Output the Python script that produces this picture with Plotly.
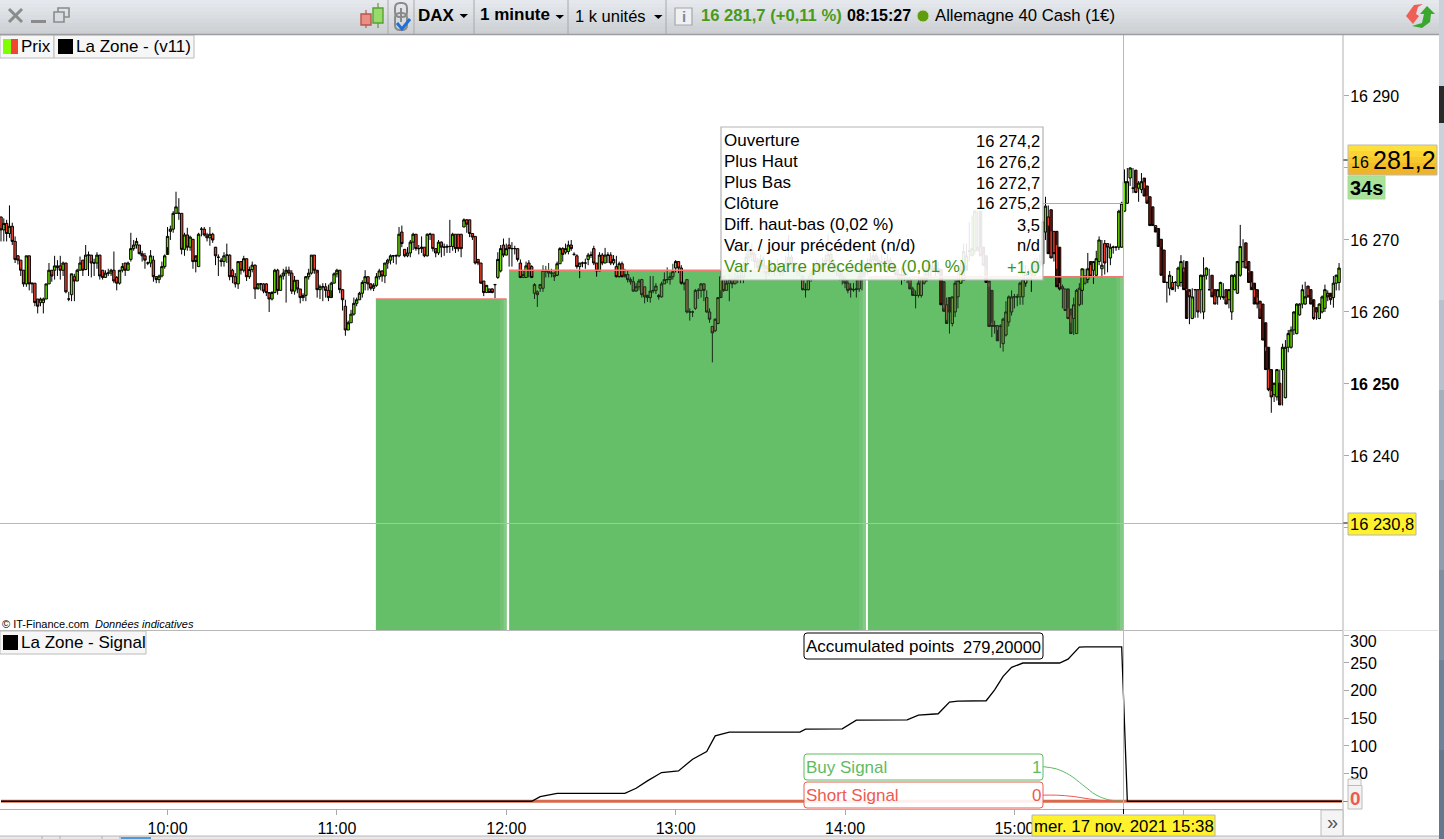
import pandas as pd
import plotly.graph_objects as go

W, H = 1444, 839
FONT = "Liberation Sans"

# ---------- data (points above 16 000) ----------
PRICE_BASE = 16000
opens = [
273.2,271.4,272.3,270.9,271.9,269.8,267.8,267.2,265.8,263.9,
267.8,263.9,264.0,261.8,261.3,261.3,261.8,263.9,265.8,265.8,
266.4,266.4,265.8,266.8,261.8,262.4,264.9,264.3,265.8,267.2,
265.9,267.9,267.9,266.8,266.8,267.9,265.8,264.8,265.4,265.4,
265.8,264.8,264.0,265.8,266.8,265.8,267.3,268.8,269.3,269.3,
268.1,267.8,266.8,266.8,267.2,264.9,264.5,265.0,266.3,268.0,
271.2,271.5,273.7,273.7,273.7,268.7,270.7,269.0,270.1,267.8,
266.3,271.5,271.5,270.7,270.3,270.8,269.0,267.6,267.2,267.0,
267.9,267.9,265.8,264.9,263.9,267.0,265.8,267.4,264.9,265.9,
266.5,263.2,263.9,263.9,263.9,262.7,261.8,262.7,265.8,263.0,
265.0,265.4,265.8,265.4,262.9,264.4,263.2,262.0,262.3,264.9,
265.4,267.9,265.8,263.1,263.5,263.5,263.0,262.0,264.0,265.3,
265.8,263.1,260.8,257.5,258.5,259.7,261.2,261.7,262.6,264.1,
264.9,263.9,263.3,263.7,264.9,265.7,265.0,266.8,267.2,267.8,
267.8,267.8,271.1,268.7,267.8,268.2,269.7,270.8,268.8,268.8,
269.0,267.8,270.8,270.8,268.8,268.2,269.7,269.0,269.0,269.1,
269.1,270.8,270.8,270.8,271.8,272.8,272.8,270.9,270.5,267.3,
266.8,264.3,262.7,263.2,263.2,263.8,264.8,265.7,269.3,267.9,
269.3,268.8,268.8,268.8,266.8,264.8,264.8,266.8,266.3,262.6,
262.8,263.3,263.3,265.8,265.7,265.4,265.4,265.1,266.7,268.8,
268.3,268.4,269.3,268.0,267.8,266.3,266.8,266.8,267.3,267.9,
268.8,266.8,265.7,267.9,266.8,267.9,267.9,266.8,266.3,264.9,
266.7,264.9,265.2,264.5,264.2,262.9,263.5,264.5,263.5,262.3,
262.0,262.9,263.0,262.3,262.1,263.9,264.5,264.5,264.9,266.1,
267.0,266.1,264.0,264.5,260.0,260.0,260.5,263.0,263.0,263.9,
262.0,260.0,258.0,257.4,258.4,262.0,264.9,263.0,264.0,264.5,
263.9,264.6,265.0,264.8,265.8,267.6,268.6,268.0,267.0,266.2,
267.3,266.4,265.4,265.9,266.2,265.8,266.3,265.5,265.9,266.8,
267.6,266.7,265.9,265.6,265.0,263.1,263.1,264.5,265.3,266.0,
266.5,266.0,266.6,267.2,268.0,266.8,266.3,265.6,265.0,264.5,
264.0,263.3,263.1,263.1,263.2,264.9,265.5,266.0,266.6,267.3,
267.8,267.1,266.5,267.0,266.3,267.2,266.6,266.0,265.2,264.7,
265.2,264.9,264.5,263.2,262.3,262.3,262.3,264.0,264.7,264.8,
265.8,266.5,266.0,265.9,264.2,261.0,262.0,258.4,260.0,262.1,
264.0,264.4,265.8,268.4,267.8,268.5,268.5,274.0,269.0,267.8,
264.3,263.0,258.0,258.1,258.0,255.6,256.8,258.6,260.0,262.1,
262.1,262.1,262.1,264.0,264.5,265.3,265.0,265.8,266.5,266.7,
271.1,273.2,274.2,271.2,271.2,269.0,263.5,263.2,263.2,260.4,
259.1,257.0,261.0,263.0,264.0,264.5,267.0,265.8,265.1,267.0,
266.0,269.5,269.5,267.5,269.0,269.0,269.0,269.0,274.0,275.1,
278.6,277.2,279.7,277.2,277.0,278.6,277.5,276.0,274.6,272.0,
271.6,270.1,268.6,264.1,263.3,264.1,264.1,263.6,264.1,266.1,
267.0,263.1,259.1,263.1,263.1,263.1,260.0,265.1,263.1,265.1,
263.1,262.1,262.1,262.0,263.1,261.7,260.0,263.1,262.6,265.1,
267.0,269.6,267.0,265.6,264.0,263.1,261.5,261.1,258.5,255.1,
252.0,248.5,248.2,250.1,252.0,248.1,255.1,255.1,257.5,257.0,
259.6,261.1,261.1,263.6,263.1,261.7,260.6,259.1,260.0,260.5,
262.6,262.6,262.0,264.0,264.1,264.5,
]
closes = [
271.4,272.3,270.9,271.9,269.8,267.3,267.2,265.8,263.9,267.8,
263.9,264.0,261.3,260.8,261.8,261.8,263.9,265.8,265.0,266.4,
266.2,265.8,266.8,262.8,261.8,265.3,264.3,265.8,266.8,265.8,
267.9,267.9,266.8,266.8,267.9,265.0,264.8,265.4,265.4,265.8,
264.3,264.0,265.8,266.3,265.8,266.8,268.8,269.3,269.8,268.1,
267.8,267.2,266.8,267.8,264.9,264.5,265.0,266.3,267.8,270.5,
271.5,273.7,274.6,273.7,268.7,270.7,269.0,270.4,267.0,267.0,
270.8,271.5,270.7,270.3,270.8,270.0,267.8,267.6,267.0,267.8,
267.9,264.9,264.9,263.9,267.0,265.8,267.4,264.9,265.9,266.5,
263.2,263.9,263.9,262.9,262.7,261.8,262.7,265.8,263.0,265.0,
265.4,265.8,265.4,262.9,264.4,263.2,262.0,262.3,264.9,265.4,
267.9,265.8,263.1,263.5,263.5,263.0,262.0,264.0,265.3,265.8,
263.1,261.7,257.5,258.5,259.7,261.2,261.7,262.6,264.1,264.9,
263.9,263.3,263.7,264.9,265.7,265.0,266.8,267.2,267.8,267.8,
267.8,270.8,269.5,267.8,268.2,269.7,270.8,268.8,268.8,269.0,
267.8,270.8,270.8,268.8,268.2,269.7,269.0,269.0,269.1,269.1,
270.8,268.8,268.8,268.8,272.8,272.2,270.9,270.4,266.8,266.8,
264.0,262.7,263.7,262.7,262.7,263.8,267.3,268.8,267.9,268.8,
268.8,268.8,268.8,267.3,264.8,265.2,266.4,265.8,264.8,263.8,
262.4,263.8,265.8,265.7,265.4,265.4,264.9,266.7,268.8,268.0,
268.8,269.3,268.8,268.0,266.3,266.8,266.8,266.8,267.9,267.9,
266.8,265.7,267.9,266.8,267.9,267.9,266.8,267.3,264.9,266.7,
264.9,265.2,264.5,264.2,262.9,263.5,264.3,262.4,262.1,262.0,
262.9,263.0,263.6,262.1,263.9,264.5,264.5,264.9,265.6,267.0,
266.1,264.0,263.9,260.0,260.0,260.0,263.0,263.0,263.9,263.0,
260.0,259.0,257.1,259.0,262.0,264.9,263.0,264.0,264.5,263.9,
264.6,265.0,264.8,265.8,267.6,268.6,268.0,267.0,266.2,267.3,
266.4,265.4,265.9,266.2,265.8,266.3,265.5,265.9,266.8,267.6,
266.7,265.9,265.6,266.0,263.1,263.1,264.5,265.3,266.0,266.5,
266.0,266.6,267.2,268.0,266.8,266.3,265.6,265.0,264.5,264.0,
263.0,263.1,263.1,263.2,264.9,265.5,266.0,266.6,267.3,267.8,
267.1,266.5,267.0,266.3,267.2,266.6,266.0,265.2,264.7,265.2,
264.9,264.9,263.2,262.3,262.3,264.0,264.7,264.8,265.8,266.5,
266.0,265.9,265.5,261.0,260.1,258.4,260.0,262.1,264.0,264.4,
265.8,268.4,267.8,268.5,268.8,274.0,269.0,267.8,266.5,264.1,
258.0,258.0,258.1,256.0,258.0,259.0,260.0,262.1,262.1,262.1,
262.1,264.0,264.5,265.3,265.0,265.8,266.5,266.7,267.0,272.5,
274.7,268.1,267.5,268.1,263.5,263.2,263.2,260.2,259.1,257.0,
261.0,263.0,263.3,266.0,265.0,266.0,264.9,267.0,267.4,270.0,
266.5,266.8,269.0,269.0,269.0,269.0,274.0,275.1,278.1,278.1,
280.0,277.2,276.6,277.9,278.1,276.1,275.1,272.0,272.0,271.1,
269.1,265.1,264.1,264.1,265.1,263.1,264.1,266.1,267.0,263.1,
259.1,262.1,262.1,263.1,260.0,265.1,265.1,266.1,263.1,262.1,
261.1,263.1,264.1,262.1,261.1,263.1,265.1,265.1,267.0,269.1,
267.0,266.1,264.1,263.1,261.1,261.1,259.1,256.1,252.0,249.2,
248.2,250.1,252.0,247.1,255.1,255.1,257.0,257.5,260.0,261.1,
261.1,263.1,262.1,262.1,261.1,259.1,260.0,261.1,262.1,263.1,
262.1,261.7,264.0,265.1,266.1,
]
highs = [
273.2,273.0,272.8,274.8,272.4,270.5,267.9,267.2,265.8,267.8,
267.8,264.0,264.0,261.8,262.0,262.0,263.9,266.8,265.8,267.8,
267.2,267.8,267.0,266.8,262.8,265.3,265.3,266.0,267.7,267.2,
269.3,268.4,267.9,267.4,268.3,267.9,265.8,265.8,266.0,266.0,
268.4,265.0,265.8,266.8,266.8,267.0,271.0,270.0,270.3,269.3,
268.5,268.2,267.0,268.6,267.8,265.0,265.2,267.0,268.0,271.8,
272.0,274.0,276.7,275.8,273.7,271.0,271.7,270.6,270.0,267.5,
271.0,271.8,271.8,271.0,271.8,271.0,268.9,268.0,267.5,268.3,
269.5,268.0,266.0,265.4,267.0,267.0,267.8,267.4,266.3,267.0,
266.6,264.0,264.0,264.0,264.0,262.5,262.9,266.0,266.0,265.2,
266.0,266.3,266.3,265.8,265.0,264.4,263.2,262.6,265.0,266.0,
267.9,267.9,265.4,263.8,264.0,264.0,263.8,264.2,265.5,266.0,
265.8,263.2,261.7,258.8,260.3,262.0,262.0,262.8,264.4,265.8,
264.9,264.0,264.0,265.4,266.0,265.8,266.8,267.4,268.0,267.9,
268.0,271.8,272.0,268.7,269.0,270.0,271.0,270.8,269.3,270.5,
269.0,270.9,271.0,270.8,268.8,270.0,269.8,269.5,269.4,272.8,
271.0,270.8,270.8,270.8,273.0,272.9,272.8,270.9,270.5,267.3,
266.8,264.3,263.7,263.2,263.3,263.9,268.3,269.3,270.2,269.5,
270.3,269.7,269.2,268.8,267.3,265.8,267.0,267.2,266.5,264.0,
263.0,263.9,266.5,266.4,266.8,266.0,265.6,267.0,269.0,269.0,
269.5,269.9,270.0,268.3,268.0,266.8,267.0,267.4,268.2,268.4,
269.2,266.8,268.3,268.2,268.9,268.3,268.3,267.9,267.8,267.0,
267.0,266.0,265.8,264.8,264.9,264.0,264.6,264.6,263.5,262.4,
265.0,265.0,264.0,262.5,264.2,265.5,266.2,265.5,266.7,267.2,
267.0,266.5,264.2,264.5,260.5,260.2,263.2,263.3,264.0,264.0,
263.0,260.5,258.0,259.1,262.0,265.8,265.0,264.5,265.2,265.0,
265.4,265.8,265.8,267.0,268.2,269.2,269.5,268.3,267.5,268.0,
267.8,266.5,266.8,267.0,266.5,267.3,266.5,266.5,267.8,270.7,
268.0,267.0,266.5,266.8,265.0,264.0,265.0,266.0,266.8,267.2,
267.0,267.5,268.0,270.7,268.8,267.4,266.5,266.0,265.8,265.0,
264.5,264.0,264.0,264.5,265.5,266.3,266.8,267.5,268.2,269.0,
268.2,267.6,268.0,267.5,268.0,267.6,267.0,266.3,266.0,266.2,
266.0,265.5,264.8,263.5,263.0,265.0,265.0,266.0,267.0,267.4,
267.2,267.0,267.0,265.0,261.0,262.0,260.1,262.1,264.5,265.5,
267.0,269.5,269.5,272.5,273.4,274.2,274.0,269.0,268.0,266.0,
264.0,258.5,258.8,258.2,258.3,259.2,261.5,262.3,263.0,262.5,
262.5,264.2,265.5,266.5,266.0,266.8,267.4,267.5,268.0,272.8,
276.0,274.8,271.2,271.2,269.3,264.0,263.8,263.2,260.5,259.5,
262.0,263.2,264.0,266.0,266.0,268.2,266.5,267.0,268.5,270.5,
270.0,270.0,269.5,269.5,269.2,269.1,274.2,275.3,279.8,280.0,
280.1,280.0,277.2,278.2,279.3,278.0,276.1,274.7,272.0,272.0,
270.1,268.6,264.2,264.2,265.7,265.0,264.3,266.3,267.9,267.2,
263.2,262.8,263.3,263.2,263.2,265.2,267.6,266.2,266.0,263.2,
262.2,263.2,264.2,264.0,262.0,263.2,265.2,265.3,267.1,272.1,
270.1,267.1,265.7,264.1,263.1,262.0,261.1,258.8,255.1,252.0,
249.0,250.2,252.0,252.0,255.6,256.1,257.5,258.0,260.1,261.2,
261.2,263.8,264.2,263.2,261.8,260.7,260.3,261.2,262.3,263.8,
263.0,262.1,265.0,265.2,266.8,
]
lows = [
269.8,269.8,269.8,270.3,269.3,266.8,266.6,265.0,263.5,263.5,
263.0,262.6,260.8,259.8,260.8,259.8,261.8,263.9,264.2,264.5,
265.0,264.5,265.0,262.6,261.5,261.5,261.5,264.3,265.8,265.0,
265.8,265.0,264.8,265.0,266.0,264.5,264.5,264.8,265.0,265.0,
264.0,263.0,263.8,265.5,265.0,265.8,267.0,268.5,268.8,268.0,
267.0,266.0,266.5,266.2,264.2,264.0,264.0,264.8,266.0,269.0,
270.0,271.0,273.7,272.8,268.0,267.8,268.5,268.5,266.0,265.5,
266.3,270.5,270.5,269.8,269.2,269.6,266.5,265.0,266.3,266.3,
266.8,264.4,264.0,263.4,263.2,265.2,265.5,264.3,264.6,265.5,
261.8,263.5,263.0,262.6,262.2,260.0,261.6,262.6,262.4,263.0,
264.5,261.3,265.0,262.5,262.4,262.6,261.2,261.5,261.5,264.5,
265.2,265.3,262.0,261.8,261.5,262.0,261.5,263.0,264.0,264.8,
262.6,260.2,256.7,257.5,258.5,259.5,260.8,261.7,262.0,263.0,
263.0,263.0,262.9,263.5,264.5,264.2,264.0,266.0,266.6,266.8,
266.6,267.6,269.0,267.6,267.6,267.6,268.6,268.5,268.0,268.2,
267.6,267.7,270.0,268.4,267.6,267.9,267.6,267.8,268.2,268.2,
268.5,268.2,268.4,267.6,271.8,271.0,270.4,270.0,266.6,266.5,
263.9,262.2,262.7,262.7,262.6,261.9,264.6,265.5,267.6,267.9,
266.3,266.3,268.0,267.0,264.7,264.7,264.8,264.8,264.7,261.8,
260.7,262.8,262.8,264.8,264.8,264.8,264.3,265.0,266.7,267.0,
268.0,268.0,268.5,267.8,266.0,264.7,266.2,266.0,266.5,267.5,
266.5,264.9,265.7,266.5,266.8,266.8,266.5,266.5,264.8,264.8,
264.8,264.8,264.1,263.8,262.8,263.0,263.0,262.0,261.2,261.4,
261.3,262.6,262.5,261.7,262.0,263.9,264.0,263.8,264.5,265.5,
265.4,263.8,263.0,259.8,258.8,259.3,260.3,261.8,262.0,261.5,
259.9,258.5,253.0,257.2,258.3,263.0,262.8,263.0,261.5,263.3,
264.0,264.0,264.0,264.0,265.5,267.0,267.0,266.0,265.6,265.8,
265.5,264.5,265.0,265.5,265.0,265.5,265.0,265.0,265.6,266.5,
266.0,265.5,265.0,265.0,263.0,262.0,263.0,264.2,265.0,265.7,
265.3,265.6,266.0,266.8,266.0,265.5,265.0,264.4,263.8,263.3,
262.6,262.0,262.8,262.0,262.8,263.0,264.9,265.2,265.5,266.5,
267.0,266.2,265.8,266.0,265.4,266.0,265.8,265.0,264.5,263.8,
264.3,264.0,264.0,263.0,260.5,262.0,262.0,263.8,264.2,265.0,
265.8,265.0,265.2,264.9,260.6,258.9,257.0,258.0,259.3,260.5,
264.0,264.5,266.5,267.0,268.0,268.0,268.5,268.0,266.5,265.0,
263.5,256.5,257.0,257.5,255.0,254.5,256.6,258.0,259.5,260.5,
260.8,261.0,261.0,263.5,264.6,262.8,264.8,265.5,266.0,266.3,
270.0,272.0,267.5,267.0,266.0,263.0,260.5,260.2,259.0,258.5,
256.8,257.0,260.8,261.0,263.8,264.0,265.2,263.9,264.9,266.5,
264.8,265.2,265.5,266.5,268.1,268.5,268.6,268.9,273.9,275.0,
277.5,276.5,276.5,275.3,276.5,277.2,275.6,274.7,272.0,271.8,
271.0,269.0,265.0,261.3,262.3,263.5,262.8,263.2,263.5,265.6,
263.0,258.3,259.0,259.2,259.2,259.8,259.0,264.5,263.0,262.8,
261.1,261.0,261.7,261.7,261.7,260.5,258.9,263.0,262.5,264.9,
266.1,266.1,265.5,263.5,262.1,260.5,260.5,258.8,254.6,249.0,
246.0,247.5,247.7,250.0,247.0,248.0,254.4,254.9,256.8,256.9,
259.5,260.5,261.0,262.0,262.0,258.9,258.9,259.0,259.8,260.0,
261.5,261.0,260.6,263.0,263.0,264.0,
]

accum_times = ["09:01","12:09","12:12","12:18","12:42","12:46","12:50","12:55","13:01","13:06",
               "13:11","13:14","13:19","13:44","13:46","13:59","14:04","14:22","14:26","14:33",
               "14:37","14:40","14:50","14:53","14:56","14:59","15:03","15:16","15:19","15:23",
               "15:25","15:38","15:40","16:56"]
accum_vals = [0,0,8.4,14.4,14.4,23.5,36.8,51.9,54.9,76,
              89.9,118.3,124.9,124.9,130.4,131,146.7,147.3,155.7,158.2,
              179.3,181,181.7,201.5,225.7,242,249.9,249.9,257,278.8,
              279.2,279.2,0,0]
short_times = ["09:01","16:56"]
short_vals = [0,0]
buy_link_times = ["15:09:42","15:14:48","15:19:30","15:24:12","15:28:54","15:33:36","15:38:24"]
buy_link_vals = [62.8,58.6,47.7,29.6,11.5,2.4,0.6]
short_link_times = ["15:09:42","15:15:00","15:21:18","15:28:54","15:38:24"]
short_link_vals = [11,11,8.4,2.4,0]

zone_starts = ["11:13:48","12:01:00","14:08:06"]
zone_ends = ["12:00:06","14:07:24","15:38:36"]
zone_levels = [261.8,265.8,264.9]
fade_starts = ["11:57:48","11:59:00","14:05:00","14:06:12","15:36:12","15:37:24"]
fade_ends = ["11:59:00","12:00:06","14:06:12","14:07:24","15:37:24","15:38:36"]
fade_levels = [261.8,261.8,265.8,265.8,264.9,264.9]
fade_colors = ["#72c275","#84ca86","#72c275","#84ca86","#72c275","#84ca86"]

hour_ticks = ["10:00","11:00","12:00","13:00","14:00","15:00","16:00"]
hour_labels = ["10:00","11:00","12:00","13:00","14:00","15:00",""]
price_ticks = [16230,16240,16250,16260,16270,16280,16290]
price_labels = ["","16 240","<b>16 250</b>","16 260","16 270","","16 290"]
signal_ticks = [0,50,100,150,200,250,300]
signal_labels = ["","50","100","150","200","250",""]

tooltip_names = ["Ouverture","Plus Haut","Plus Bas","Clôture","Diff. haut-bas (0,02 %)",
                 "Var. / jour précédent (n/d)","Var. / barre précédente (0,01 %)"]
tooltip_vals = ["16 274,2","16 276,2","16 272,7","16 275,2","3,5","n/d","+1,0"]

DAY = "2021-11-17 "
def ts(t):
    return pd.Timestamp(DAY + t)

times = pd.date_range(DAY + "09:01", periods=len(closes), freq="min")
Y_MIN, Y_MAX = 16215.83, 16298.47

# ---------- helpers in page pixels ----------
def X(px): return px / W
def Y(py): return 1 - py / H
shapes, notes = [], []

def rect(x0, y0, x1, y1, fill="white", line=None, lw=1, radius=0, layer="above", opacity=1):
    if radius:
        r = radius
        p = (f"M {X(x0+r)} {Y(y0)} L {X(x1-r)} {Y(y0)} Q {X(x1)} {Y(y0)} {X(x1)} {Y(y0+r)} "
             f"L {X(x1)} {Y(y1-r)} Q {X(x1)} {Y(y1)} {X(x1-r)} {Y(y1)} L {X(x0+r)} {Y(y1)} "
             f"Q {X(x0)} {Y(y1)} {X(x0)} {Y(y1-r)} L {X(x0)} {Y(y0+r)} Q {X(x0)} {Y(y0)} {X(x0+r)} {Y(y0)} Z")
        shapes.append(dict(type="path", path=p, xref="paper", yref="paper", fillcolor=fill,
                           line=dict(color=line or "rgba(0,0,0,0)", width=lw if line else 0),
                           layer=layer, opacity=opacity))
        return
    shapes.append(dict(type="rect", xref="paper", yref="paper", x0=X(x0), x1=X(x1), y0=Y(y0), y1=Y(y1),
                       fillcolor=fill, line=dict(color=line or "rgba(0,0,0,0)", width=lw if line else 0),
                       layer=layer, opacity=opacity))

def seg(x0, y0, x1, y1, color="#b0b0b0", w=1, dash=None):
    shapes.append(dict(type="line", xref="paper", yref="paper", x0=X(x0), x1=X(x1), y0=Y(y0), y1=Y(y1),
                       line=dict(color=color, width=w, dash=dash or "solid"), layer="above"))

def poly(points, fill=None, line=None, lw=1, close=True):
    d = "M " + " L ".join(f"{X(a)} {Y(b)}" for a, b in points) + (" Z" if close else "")
    shapes.append(dict(type="path", path=d, xref="paper", yref="paper",
                       fillcolor=fill or "rgba(0,0,0,0)",
                       line=dict(color=line or "rgba(0,0,0,0)", width=lw if line else 0), layer="above"))

def txt(x, y, s, size=17, color="black", anchor="left"):
    shift = {"left": -1, "right": 1, "center": 0}[anchor]
    notes.append(dict(x=X(x + shift), y=Y(y), xref="paper", yref="paper", text=s, showarrow=False,
                      xanchor=anchor, yanchor="middle", borderpad=0,
                      font=dict(family=FONT, size=size, color=color)))

# ---------- traces ----------
fig = go.Figure()

def centers(starts, ends):
    c, w = [], []
    for a, b in zip(starts, ends):
        a, b = ts(a), ts(b)
        c.append(a + (b - a) / 2)
        w.append((b - a).total_seconds() * 1000)
    return c, w

PB = PRICE_BASE
zc, zw = centers(zone_starts, zone_ends)
fig.add_trace(go.Bar(x=zc, y=[PB + v - Y_MIN for v in zone_levels], base=Y_MIN, width=zw,
                     marker=dict(color="#64bf68", line=dict(width=0)), yaxis="y", hoverinfo="skip"))
fc, fw = centers(fade_starts, fade_ends)
fig.add_trace(go.Bar(x=fc, y=[PB + v - Y_MIN for v in fade_levels], base=Y_MIN, width=fw,
                     marker=dict(color=fade_colors, line=dict(width=0)), yaxis="y", hoverinfo="skip"))

def in_zone(i):
    for a, b, lv in zip(zone_starts, zone_ends, zone_levels):
        if ts(a) <= times[i] <= ts(b) and max(opens[i], closes[i]) <= lv + 0.2:
            return True
    return False

mask = [in_zone(i) for i in range(len(closes))]
def candles(idx, inc, dec, wick):
    fig.add_trace(go.Candlestick(
        x=[times[i] for i in idx],
        open=[PB + opens[i] for i in idx], high=[PB + highs[i] for i in idx],
        low=[PB + lows[i] for i in idx], close=[PB + closes[i] for i in idx],
        increasing=dict(fillcolor=inc, line=dict(color=wick, width=1)),
        decreasing=dict(fillcolor=dec, line=dict(color=wick, width=1)),
        whiskerwidth=0, yaxis="y", hoverinfo="skip"))

candles([i for i, m in enumerate(mask) if not m], "#70e000", "#f0402c", "#000000")
candles([i for i, m in enumerate(mask) if m], "#6f9a3c", "#8a6a4a", "#1a2a1a")

for a, b, lv in zip(zone_starts, zone_ends, zone_levels):
    fig.add_trace(go.Scatter(x=[ts(a), ts(b)], y=[PB + lv, PB + lv], mode="lines",
                             line=dict(color="#f27a72", width=1.5), yaxis="y", hoverinfo="skip"))

fig.add_trace(go.Scatter(x=[ts(t) for t in short_times], y=short_vals, mode="lines",
                         line=dict(color="#d86a4e", width=3), yaxis="y2", hoverinfo="skip"))
fig.add_trace(go.Scatter(x=[ts(t) for t in buy_link_times], y=buy_link_vals, mode="lines",
                         line=dict(color="#5fbb63", width=1, shape="spline"), yaxis="y2", hoverinfo="skip"))
fig.add_trace(go.Scatter(x=[ts(t) for t in short_link_times], y=short_link_vals, mode="lines",
                         line=dict(color="#ee5a50", width=1, shape="spline"), yaxis="y2", hoverinfo="skip"))
fig.add_trace(go.Scatter(x=[ts(t) for t in accum_times], y=accum_vals, mode="lines",
                         line=dict(color="black", width=1.3), yaxis="y2", hoverinfo="skip"))

# ---------- chart overlays ----------
# tooltip
rect(721, 127, 1043, 280, fill="white", opacity=0.9)
rect(721, 127, 1043, 280, fill="rgba(0,0,0,0)", line="#b4b4b4", lw=1.2)
for k, (n, v) in enumerate(zip(tooltip_names, tooltip_vals)):
    col = "#3f9312" if k == 6 else "black"
    txt(724, 140.5 + 21 * k, n, 17, col)
    txt(1040, 140.5 + 21 * k, v, 16.5, col, "right")
seg(1043, 203.5, 1123, 203.5, "#aaaaaa", 1)

# crosshair
seg(1123.5, 35, 1123.5, 809, "#cda4e4", 1)
seg(0, 523.5, 1343, 523.5, "#cda4e4", 1)
seg(1123.5, 809, 1123.5, 814, "black", 1)
seg(1343, 160, 1348, 160, "black", 1)
seg(1343, 523, 1348, 523, "black", 1)
seg(1343, 801.5, 1348, 801.5, "#ee5a50", 1)

# frame lines
seg(1343, 35, 1343, 836, "#b0b0b0", 1)
seg(0, 630.5, 1343, 630.5, "#b8b8b8", 1.2)
seg(1343, 630.5, 1438, 630.5, "#e2e2e2", 1)

# signal labels
rect(804, 633, 1043, 659, fill="white", line="black", lw=1, radius=3)
txt(806, 646.5, "Accumulated points", 17)
txt(1041, 646.5, "279,20000", 16.5, "black", "right")
rect(804, 754, 1043, 780, fill="white", line="#5fbb63", lw=1, radius=3)
txt(806, 767.5, "Buy Signal", 17, "#5fbb63")
txt(1041, 767.5, "1", 17, "#5fbb63", "right")
rect(804, 782, 1043, 808, fill="rgba(255,255,255,0.9)", line="#ee5a50", lw=1, radius=3)
txt(806, 795.5, "Short Signal", 17, "#ee5a50")
txt(1041, 795.5, "0", 17, "#ee5a50", "right")

# legends
rect(0, 35, 54, 58, fill="#f6f6f6", line="#bcbcbc")
rect(3, 39, 11, 54, fill="#7fff00")
rect(11, 39, 18, 54, fill="#f0452f")
txt(21, 46.5, "Prix", 17)
rect(54, 35, 194, 58, fill="#f6f6f6", line="#bcbcbc")
rect(58, 39, 73, 54, fill="black")
txt(76, 46.5, "La Zone - (v11)", 17)
rect(0, 631, 146, 654, fill="#f6f6f6", line="#bcbcbc")
rect(3, 635, 18, 650, fill="black")
txt(21, 642.5, "La Zone - Signal", 17)
txt(2, 624, "© IT-Finance.com", 11)
txt(95, 624, "<i>Données indicatives</i>", 11)

# right axis boxes
for j, c in enumerate(["#ffdf3c", "#fbd434", "#f7c82e", "#f2bd2a", "#efb428"]):
    rect(1348, 145 + 6 * j, 1437, 151 + 6 * j, fill=c)
rect(1348, 145, 1437, 175, fill="rgba(0,0,0,0)", line="#b8b8b8")
txt(1351, 163, "16", 16)
txt(1373, 160, "281,2", 25)
rect(1348, 176, 1385, 199, fill="#a9e298", line="#a5dc95")
txt(1350, 188, "<b>34s</b>", 20)
rect(1348, 513, 1416, 535, fill="#fff22c", line="#b4b4b4")
txt(1350, 524, "16 230,8", 16.5)
rect(1348, 779, 1361, 786, fill="#f4f4f4", line="#c0c0c0")
rect(1348, 785.5, 1362, 809, fill="#f2f2f2", line="#bcbcbc")
txt(1355, 798, "<b>0</b>", 19, "#ee5a50", "center")
txt(1350, 641, "300", 16)

# bottom strip
rect(0, 836, 1439, 839, fill="#e9e9e9")
seg(0, 836, 1439, 836, "#b8b8b8", 1)
rect(121, 837, 151, 839, fill="#4a9be0")
for sx in (42, 60, 102, 120):
    seg(sx, 836, sx, 839, "#b0b0b0", 1)
rect(1032, 815, 1215, 836, fill="#fff22c", line="#b4b4b4")
txt(1034, 826.5, "mer. 17 nov. 2021 15:38", 16.8)
rect(1321, 810, 1343, 836, fill="#f4f4f4", line="#bcbcbc")
txt(1332, 822, "»", 20, "#555555", "center")

# toolbar
shades = ["#e5e8ec", "#e2e5e9", "#dfe2e6", "#dce0e3", "#d9dce0", "#d6d9dd", "#d2d6d9", "#cfd2d6", "#cccfd3"]
for j, c in enumerate(shades):
    rect(0, j * 34 / 9, 1439, (j + 1) * 34 / 9 + 0.5, fill=c)
seg(0, 34.5, 1439, 34.5, "#9d9d9d", 1.5)
for sx in (388, 414, 474, 568, 666):
    seg(sx, 0, sx, 34, "#a8a8a8", 1)
# window buttons
seg(9, 9, 22, 22, "#8b8b8b", 3)
seg(22, 9, 9, 22, "#8b8b8b", 3)
seg(31, 21.5, 46, 21.5, "#8b8b8b", 3)
rect(58, 8, 69, 17, fill="rgba(0,0,0,0)", line="#8b8b8b", lw=1.6)
rect(54, 12, 64, 22, fill="#d9dce0", line="#8b8b8b", lw=1.6)
# candle icon
seg(366, 10, 366, 28, "#b8564c", 1.2)
rect(361, 14, 371, 25, fill="#ea8e86", line="#b8564c", lw=1.4)
seg(378, 3, 378, 28, "#5a9e34", 1.2)
rect(373, 8, 383, 23, fill="#97dc6a", line="#5a9e34", lw=1.4)
# chain and check icon
rect(395, 3, 407, 17, fill="rgba(0,0,0,0)", line="#8a8a8a", lw=2, radius=5)
rect(395, 13, 407, 30, fill="rgba(0,0,0,0)", line="#8a8a8a", lw=2, radius=5)
seg(401, 8, 401, 22, "#8a8a8a", 2)
poly([(397, 23), (402, 29), (410, 19)], line="#1f6fd6", lw=3, close=False)
txt(418, 16, "<b>DAX</b>", 17)
poly([(459.5, 14), (468, 14), (463.8, 18)], fill="black")
txt(480, 15, "<b>1 minute</b>", 17)
poly([(555.5, 15), (564, 15), (559.8, 19)], fill="black")
txt(575, 16, "1 k unités", 16.5)
poly([(654, 15), (662.5, 15), (658.3, 19)], fill="black")
rect(675, 8, 692, 25, fill="#eef0f3", line="#a6a6a6", lw=1.2)
txt(683.5, 16.5, "<b>i</b>", 15, "#7b8a9a", "center")
txt(701, 16, "<b>16 281,7 (+0,11 %)</b>", 16.6, "#4a9a1a")
txt(847, 16, "<b>08:15:27</b>", 16)
shapes.append(dict(type="circle", xref="paper", yref="paper", x0=X(917), x1=X(929), y0=Y(10), y1=Y(22),
                   fillcolor="#5f9c10", line=dict(color="#cfe0b0", width=1), layer="above"))
txt(935, 16, "Allemagne 40 Cash (1€)", 16.7)
poly([(1406, 16), (1414, 5), (1423, 4), (1418, 7), (1416, 14), (1419, 16), (1413, 24)], fill="#ee6055")
poly([(1435, 14), (1427, 6), (1420, 14), (1424, 14), (1422, 23), (1412, 26), (1422, 28), (1430, 22), (1431, 14)], fill="#3aa82c")

# desktop edge
rect(1439, 0, 1444, 839, fill="#c9d1da")
for j, c in enumerate(["#b7c1cd", "#a3afbe", "#8e9cae", "#7e8ea2", "#6f8197", "#64778e"]):
    rect(1439, 300 + j * 90, 1444, 390 + j * 90, fill=c)
rect(1439, 86, 1444, 123, fill="#2a2a2a")

# ---------- layout ----------
axis_font = dict(family=FONT, size=16, color="black")
fig.update_layout(
    width=W, height=H, margin=dict(l=0, r=0, t=0, b=0), autosize=False,
    paper_bgcolor="white", plot_bgcolor="white", showlegend=False,
    barmode="overlay", boxmode="overlay", boxgap=0.15, boxgroupgap=0.0, hovermode=False,
    font=dict(family=FONT, size=16, color="black"),
    xaxis=dict(domain=[0, 1343 / W], anchor="y2", type="date",
               range=["2021-11-17 09:00:39", "2021-11-17 16:56:24"],
               tickmode="array", tickvals=[ts(t) for t in hour_ticks], ticktext=hour_labels,
               ticks="outside", ticklen=5, tickwidth=1, tickcolor="#a8a8a8", tickfont=axis_font,
               showgrid=False, zeroline=False, showline=True, linecolor="#b0b0b0", linewidth=1,
               rangeslider=dict(visible=False)),
    yaxis=dict(domain=[1 - 630 / H, 1 - 35 / H], anchor="x", side="right", range=[Y_MIN, Y_MAX],
               tickmode="array", tickvals=price_ticks, ticktext=price_labels,
               ticks="outside", ticklen=5, tickwidth=1, tickcolor="#a8a8a8", tickfont=axis_font,
               ticklabelstandoff=-2,
               showgrid=False, zeroline=False, showline=False),
    yaxis2=dict(domain=[1 - 809 / H, 1 - 630 / H], anchor="x", side="right", range=[-14, 309.6],
                tickmode="array", tickvals=signal_ticks, ticktext=signal_labels,
                ticks="outside", ticklen=5, tickwidth=1, tickcolor="#a8a8a8", tickfont=axis_font,
                ticklabelstandoff=-2,
                showgrid=False, zeroline=False, showline=False),
    shapes=shapes, annotations=notes,
)
fig.write_html("out.html", config=dict(displayModeBar=False, staticPlot=True),
               post_script="document.body.style.margin='0';document.body.style.overflow='hidden';")
